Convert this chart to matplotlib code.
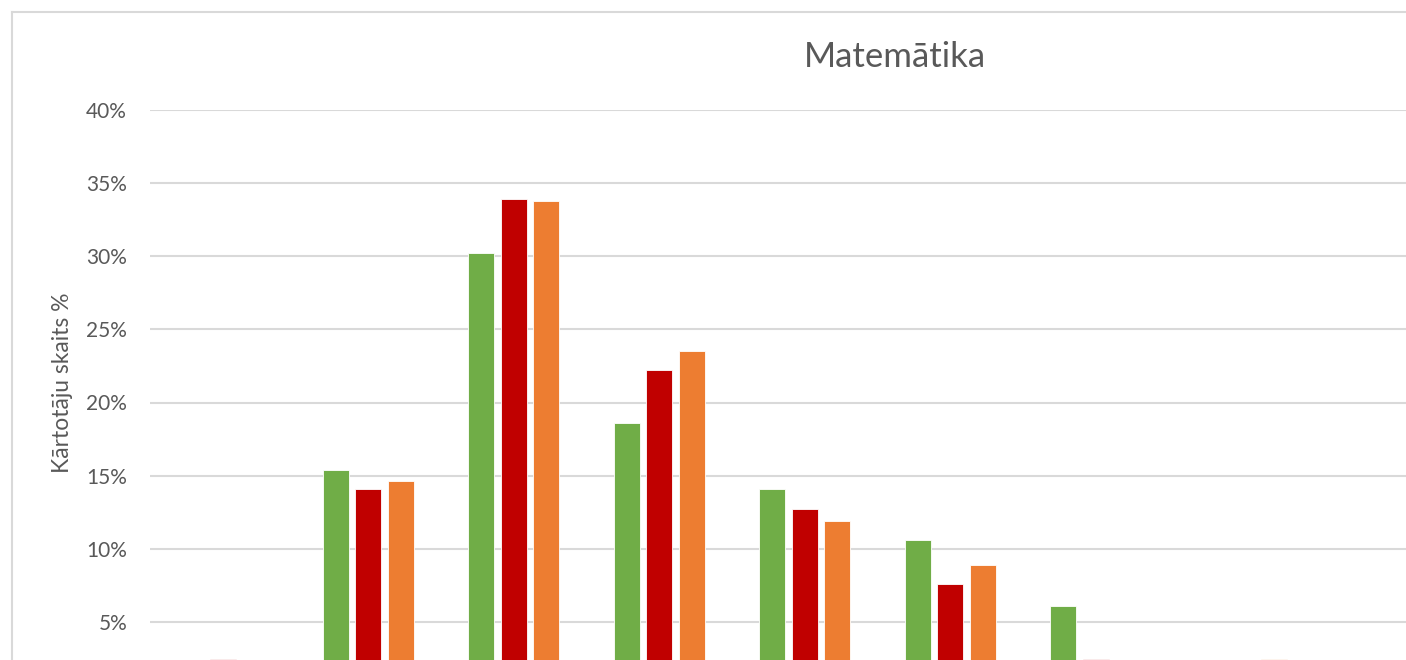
import matplotlib
matplotlib.use("Agg")
import matplotlib.pyplot as plt
from matplotlib.lines import Line2D
import numpy as np

plt.rcParams['font.family'] = ['Lato', 'DejaVu Sans']

# data (percent); bottom of the chart is cut off
categories = ["1", "2", "3", "4", "5", "6", "7", "8", "9"]
series_a = [0.5, 15.4, 30.2, 18.6, 14.1, 10.6, 6.1, 0.4, 0.0]
series_b = [2.45, 14.1, 33.9, 22.2, 12.75, 7.6, 2.45, 0.4, 0.0]
series_c = [0.5, 14.6, 33.8, 23.5, 11.9, 8.9, 0.8, 2.45, 0.0]
colors = ["#70AD47", "#C00000", "#ED7D31"]

W, H = 1406, 660
fig = plt.figure(figsize=(W / 100, H / 100), dpi=100)

# plot area: 40% line at y=110, 0% at y=695 (below the picture), left at x=150
ax = fig.add_axes([150 / W, 1 - 695 / H, 1309.5 / W, 585 / H])

x = np.arange(len(categories))
pitch = 0.223
width = 0.18
for i, (vals, c) in enumerate(zip([series_a, series_b, series_c], colors)):
    ax.bar(x + (i - 1) * pitch, vals, width, color=c, edgecolor="white",
           linewidth=0.6, zorder=3)

ax.set_xlim(-0.5, len(categories) - 0.5)
ax.set_ylim(0, 40)
ax.set_yticks(np.arange(5, 41, 5))
ax.set_yticklabels([f"{v}%" for v in range(5, 41, 5)])
ax.set_xticks(x)
ax.set_xticklabels(categories)
# category labels lie below the cut-off edge of the picture
ax.tick_params(axis="x", length=0, labelbottom=False)
ax.tick_params(axis="y", length=0, pad=16.5, labelsize=15, labelcolor="#595959")
ax.yaxis.grid(True, color="#D9D9D9", linewidth=1.5, zorder=0)
for s in ax.spines.values():
    s.set_visible(False)

ax.set_ylabel("Kārtotāju skaits %", fontsize=16.5, color="#595959")
ax.yaxis.set_label_coords(-(150 - 73) / 1309.5, (695 - 383) / 585)

fig.text(895 / W, 1 - 57 / H, "Matemātika", fontsize=25, color="#595959",
         ha="center", va="center")

# outer chart border (left and top, rest is cut off)
fig.add_artist(Line2D([12 / W, 12 / W], [1 - 12 / H, 0], color="#D9D9D9",
                      linewidth=1.5, transform=fig.transFigure))
fig.add_artist(Line2D([12 / W, 1], [1 - 12 / H, 1 - 12 / H], color="#D9D9D9",
                      linewidth=1.5, transform=fig.transFigure))

fig.savefig("out.png", dpi=100, facecolor="white")
